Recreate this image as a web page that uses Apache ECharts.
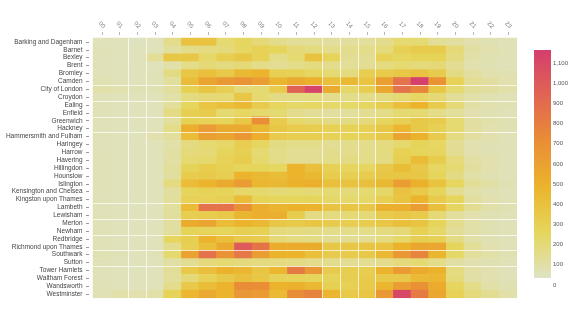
<!DOCTYPE html>
<html>
<head>
<meta charset="utf-8">
<script src="https://cdn.jsdelivr.net/npm/echarts@6/dist/echarts.min.js"></script>
<style>
  html, body { margin: 0; padding: 0; background: #fff; }
  #chart { width: 586px; height: 323px; }
</style>
</head>
<body>
<div id="chart"></div>
<script>
// Hour-of-day columns
const hours = ['00','01','02','03','04','05','06','07','08','09','10','11',
               '12','13','14','15','16','17','18','19','20','21','22','23'];

// Borough rows, top to bottom
const boroughs = [
  'Barking and Dagenham','Barnet','Bexley','Brent','Bromley','Camden','City of London',
  'Croydon','Ealing','Enfield','Greenwich','Hackney','Hammersmith and Fulham','Haringey',
  'Harrow','Havering','Hillingdon','Hounslow','Islington','Kensington and Chelsea',
  'Kingston upon Thames','Lambeth','Lewisham','Merton','Newham','Redbridge',
  'Richmond upon Thames','Southwark','Sutton','Tower Hamlets','Waltham Forest',
  'Wandsworth','Westminster'
];

// Counts per borough (rows) and hour (columns)
const counts = [
  [25,20,15,20,120,360,360,180,220,170,120,100,100,80,80,90,120,180,180,100,80,50,40,30],
  [30,25,20,25,90,130,150,160,210,250,230,170,150,130,120,130,160,260,300,300,170,70,50,35],
  [30,20,20,100,330,330,200,280,330,250,130,180,360,240,110,110,250,220,240,240,150,60,40,30],
  [30,25,20,25,60,130,170,150,170,130,110,130,150,120,100,110,150,180,160,170,110,50,40,30],
  [30,25,20,30,140,330,380,320,420,450,270,260,220,180,150,280,300,330,360,300,140,80,50,40],
  [40,30,25,30,90,400,540,620,650,580,440,520,470,380,420,350,570,830,1120,650,250,110,80,50],
  [60,50,40,40,90,260,340,270,170,180,300,920,1090,520,200,280,530,830,720,330,180,100,80,60],
  [30,25,20,25,60,150,170,180,330,180,140,140,150,120,130,130,150,180,210,170,100,60,40,30],
  [30,25,20,25,90,220,340,380,420,300,220,200,210,200,200,220,280,380,450,300,170,70,50,40],
  [30,25,20,25,140,270,300,180,210,190,180,120,100,80,90,110,130,180,180,130,90,50,40,30],
  [30,25,20,25,90,260,250,240,330,680,300,200,170,140,140,160,220,270,320,300,180,80,60,40],
  [30,25,20,25,130,480,600,510,510,420,330,300,290,260,250,260,330,430,320,260,180,80,50,40],
  [30,25,20,50,90,400,570,540,620,480,300,280,280,250,240,250,320,540,460,300,150,80,50,30],
  [30,25,20,25,60,150,180,200,280,220,140,130,130,110,120,120,150,190,240,210,110,50,40,30],
  [30,25,20,25,70,160,170,230,270,180,130,110,110,120,120,130,150,260,230,220,110,50,40,30],
  [30,25,20,25,70,180,190,250,290,190,130,110,110,130,140,130,140,270,400,290,160,70,50,30],
  [30,25,20,25,90,240,290,260,230,230,210,450,380,260,220,220,320,390,320,210,180,80,50,30],
  [30,25,20,25,80,290,300,280,450,420,390,450,420,290,270,290,330,340,330,230,140,60,40,30],
  [30,25,20,25,150,400,450,520,600,430,420,460,480,380,360,370,420,580,470,360,220,100,70,40],
  [30,25,20,25,80,230,250,240,200,190,170,180,170,180,160,180,200,360,310,230,110,60,40,30],
  [30,25,20,25,90,250,250,270,400,240,230,230,230,200,190,200,270,350,450,300,230,80,50,30],
  [30,25,20,25,90,400,830,830,670,480,440,460,450,350,340,330,470,480,580,370,220,110,60,40],
  [30,25,20,25,90,280,290,320,440,480,490,290,140,150,170,170,300,330,300,170,90,50,40,30],
  [30,25,20,25,80,500,550,400,450,420,330,310,340,300,280,290,330,380,350,230,120,60,40,30],
  [30,25,20,25,80,240,230,230,270,260,160,150,140,130,130,130,150,170,260,200,100,60,40,30],
  [30,25,20,25,220,280,450,380,310,300,170,150,140,110,110,110,150,200,280,260,140,60,40,30],
  [30,25,20,25,120,270,380,520,960,820,500,500,500,330,330,350,360,460,530,530,230,100,50,30],
  [40,30,25,30,190,560,830,650,800,590,460,450,380,300,300,320,420,620,730,440,200,90,60,40],
  [30,25,20,25,70,110,160,180,160,150,150,140,120,120,110,110,120,160,180,130,70,50,40,30],
  [30,25,20,25,100,310,380,460,430,340,430,780,620,300,280,280,450,600,500,460,150,70,50,30],
  [30,25,20,25,90,170,250,320,370,330,250,240,230,240,280,300,310,320,410,430,160,70,50,30],
  [30,25,20,25,120,310,390,450,690,680,460,470,420,270,260,310,430,580,660,500,220,130,60,40],
  [35,60,50,60,240,430,510,450,630,600,410,690,740,440,310,340,620,1080,790,530,250,160,110,60]
];

// Colour scale extent, ramp (low to high) and legend tick step
const colorMax = 1130;
const colorRamp = ['#dfe3c5', '#e6d65c', '#ebb42c', '#e98e36', '#e16553', '#d43e6e'];
const legendStep = 100;

const cells = [];
counts.forEach(function (row, r) {
  row.forEach(function (v, h) { cells.push([h, r, v]); });
});

// Seams that run through the cell raster
const seamCols = [2, 3, 13, 14, 15, 16];
const seamRows = [6, 8, 10, 12, 21, 23, 25, 27, 29];

// Legend bar geometry
const barLeft = 534, barTop = 50, barWidth = 17, barHeight = 228;

// Legend gradient: top of the bar is the highest value
const n = colorRamp.length;
const gradStops = colorRamp.map(function (c, i) {
  return { offset: 1 - i / (n - 1), color: c };
}).sort(function (a, b) { return a.offset - b.offset; });

const chart = echarts.init(document.getElementById('chart'), null, { renderer: 'canvas' });

chart.setOption({
  animation: false,
  backgroundColor: '#ffffff',
  textStyle: { fontFamily: 'Liberation Sans, Arial, sans-serif' },
  grid: [
    { left: 93, top: 38, width: 424, height: 260, containLabel: false },
    { left: barLeft, top: 57, width: barWidth, height: barHeight, containLabel: false }
  ],
  xAxis: [
    {
      type: 'category',
      gridIndex: 0,
      data: hours,
      position: 'top',
      offset: 3,
      z: 3,
      axisLine: { show: false },
      axisTick: { show: true, interval: 0, alignWithLabel: true, length: 3, lineStyle: { color: '#b5b5b5' } },
      axisLabel: {
        interval: 0, rotate: 45, fontSize: 6, color: '#777', margin: 10,
        align: 'center', verticalAlign: 'middle'
      },
      splitLine: {
        show: true,
        interval: function (i) { return seamCols.indexOf(i) >= 0; },
        lineStyle: { color: 'rgba(255,255,255,0.7)', width: 1 }
      }
    },
    { type: 'value', gridIndex: 1, show: false, min: 0, max: 1 }
  ],
  yAxis: [
    {
      type: 'category',
      gridIndex: 0,
      data: boroughs,
      inverse: true,
      offset: 4,
      z: 3,
      axisLine: { show: false },
      axisTick: { show: true, interval: 0, alignWithLabel: true, length: 3, lineStyle: { color: '#9a9a9a' } },
      axisLabel: { interval: 0, fontSize: 6.5, color: '#444', margin: 6.5 },
      splitLine: {
        show: true,
        interval: function (i) { return seamRows.indexOf(i) >= 0; },
        lineStyle: { color: 'rgba(255,255,255,0.7)', width: 1 }
      }
    },
    {
      type: 'value',
      gridIndex: 1,
      position: 'right',
      min: 0,
      max: colorMax,
      interval: legendStep,
      axisLine: { show: false },
      axisTick: { show: false },
      splitLine: { show: false },
      axisLabel: {
        fontSize: 6, color: '#555', margin: 2, showMaxLabel: false,
        formatter: function (v) { return v.toLocaleString('en-US'); }
      }
    }
  ],
  visualMap: {
    type: 'continuous',
    show: false,
    min: 0,
    max: colorMax,
    seriesIndex: 0,
    inRange: { color: colorRamp }
  },
  graphic: [
    {
      type: 'rect',
      left: barLeft,
      top: barTop,
      shape: { width: barWidth, height: barHeight },
      style: { fill: new echarts.graphic.LinearGradient(0, 0, 0, 1, gradStops) },
      silent: true
    }
  ],
  series: [
    {
      type: 'heatmap',
      xAxisIndex: 0,
      yAxisIndex: 0,
      data: cells,
      itemStyle: { borderWidth: 0 },
      emphasis: { disabled: true }
    }
  ]
});
</script>
</body>
</html>
